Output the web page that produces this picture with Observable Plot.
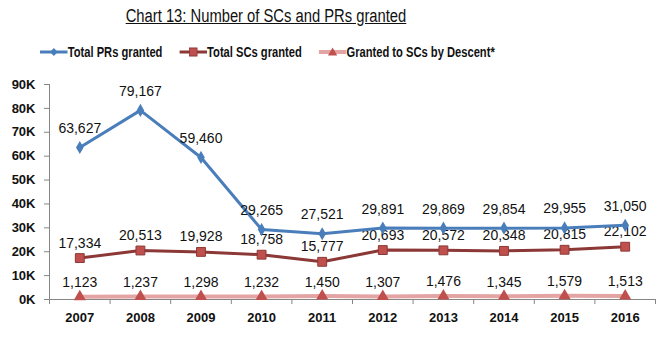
<!DOCTYPE html>
<html>
<head>
<meta charset="utf-8">
<script src="https://cdn.jsdelivr.net/npm/d3@7"></script>
<script src="https://cdn.jsdelivr.net/npm/@observablehq/plot@0.6"></script>
<style>
  body { margin: 0; background: #fff; width: 666px; height: 338px; overflow: hidden; position: relative; }
  #title { position: absolute; left: 0; top: 4px; width: 532px; text-align: center;
    font-family: "Liberation Sans", Arial, sans-serif;
    font-size: 18px; text-decoration: underline; color: #111; line-height: 24px;
    transform: scaleX(0.82); transform-origin: 266px 50%; }
  #legend { position: absolute; left: 40px; top: 42px; display: flex; align-items: center;
    font-family: "Liberation Sans", Arial, sans-serif; white-space: nowrap;
    font-weight: bold; font-size: 14.5px; color: #111; line-height: 20px;
    transform: scaleX(0.77); transform-origin: 0 50%; }
  #legend .item { display: flex; align-items: center; margin-right: 22px; }
  #chart { position: absolute; left: 0; top: 68px; }
</style>
</head>
<body>
<div id="title">Chart 13: Number of SCs and PRs granted</div>
<div id="legend"></div>
<div id="chart"></div>
<script>
const years = [2007, 2008, 2009, 2010, 2011, 2012, 2013, 2014, 2015, 2016];
const prsGranted = [63627, 79167, 59460, 29265, 27521, 29891, 29869, 29854, 29955, 31050];
const scsGranted = [17334, 20513, 19928, 18758, 15777, 20693, 20572, 20348, 20815, 22102];
const scsByDescent = [1123, 1237, 1298, 1232, 1450, 1307, 1476, 1345, 1579, 1513];
const yTicks = [0, 10000, 20000, 30000, 40000, 50000, 60000, 70000, 80000, 90000];
const seriesNames = ["Total PRs granted", "Total SCs granted", "Granted to SCs by Descent*"];

const rows = years.map((year, i) => ({
  year, prs: prsGranted[i], scs: scsGranted[i], descent: scsByDescent[i]
}));

const fmt = d3.format(",");
const axisColor = "#868686";
const prColor = "#4A7EBB";
const scLine = "#8C3836";
const scMarker = "#C0504D";
const dLine = "#E3A4A3";
const dMarker = "#C0504D";

// Legend (container is horizontally condensed to mimic the narrow original font)
const legendDefs = [
  {name: seriesNames[0], line: prColor, lw: 3, marker: "diamond", mfill: prColor},
  {name: seriesNames[1], line: scLine, lw: 3, marker: "square", mfill: scMarker},
  {name: seriesNames[2], line: dLine, lw: 4, marker: "triangle", mfill: dMarker}
];
const legend = document.getElementById("legend");
legendDefs.forEach(d => {
  const item = document.createElement("div");
  item.className = "item";
  let m = "";
  if (d.marker === "diamond") m = `<path d="M18,6 L23,10 L18,14 L13,10 Z" fill="${d.mfill}"/>`;
  if (d.marker === "square") m = `<rect x="13" y="6" width="10" height="8" fill="${d.mfill}" stroke="${scLine}" stroke-width="1"/>`;
  if (d.marker === "triangle") m = `<path d="M18,5.5 L24,13.5 L12,13.5 Z" fill="${d.mfill}"/>`;
  item.innerHTML = `<svg width="36" height="20"><line x1="0" x2="36" y1="10" y2="10" stroke="${d.line}" stroke-width="${d.lw}"/>${m}</svg><span>${d.name}</span>`;
  legend.appendChild(item);
});

const halfTicks = d3.range(2006.5, 2017, 1);

const chart = Plot.plot({
  width: 666,
  height: 270,
  marginTop: 16,
  marginBottom: 39,
  marginLeft: 49,
  marginRight: 11,
  style: {fontFamily: "Liberation Sans, Arial, sans-serif", background: "white", color: "#111"},
  x: {type: "linear", domain: [2006.5, 2016.5]},
  y: {domain: [0, 90000]},
  marks: [
    Plot.axisY(yTicks, {tickSize: 5, tickPadding: 9, tickFormat: d => d / 1000 + "K",
      fontWeight: "bold", fontSize: 13, stroke: axisColor, fill: "#111", label: null}),
    Plot.axisX(years, {tickSize: 0, tickPadding: 13, tickFormat: "d",
      fontWeight: "bold", fontSize: 13, fill: "#111", label: null}),
    Plot.axisX(halfTicks, {tickSize: 5, tickFormat: () => "", stroke: axisColor, label: null}),
    Plot.ruleX([2006.5], {stroke: axisColor}),
    Plot.ruleY([0], {stroke: axisColor}),

    Plot.line(rows, {x: "year", y: "descent", stroke: dLine, strokeWidth: 4}),
    Plot.dot(rows, {x: "year", y: "descent", symbol: "triangle", r: 4.5, fill: dMarker}),
    Plot.text(rows, {x: "year", y: "descent", text: d => fmt(d.descent), dy: -14, fontSize: 14, fill: "#111"}),

    Plot.line(rows, {x: "year", y: "scs", stroke: scLine, strokeWidth: 3}),
    Plot.dot(rows, {x: "year", y: "scs", symbol: "square", r: 5, fill: scMarker, stroke: scLine, strokeWidth: 1}),
    Plot.text(rows, {x: "year", y: "scs", text: d => fmt(d.scs), dy: -15, fontSize: 14, fill: "#111"}),

    Plot.line(rows, {x: "year", y: "prs", stroke: prColor, strokeWidth: 3}),
    Plot.dot(rows, {x: "year", y: "prs", symbol: "diamond", r: 4, fill: prColor}),
    Plot.text(rows, {x: "year", y: "prs", text: d => fmt(d.prs), dy: -19, fontSize: 14, fill: "#111"})
  ]
});
document.getElementById("chart").appendChild(chart);
</script>
</body>
</html>
